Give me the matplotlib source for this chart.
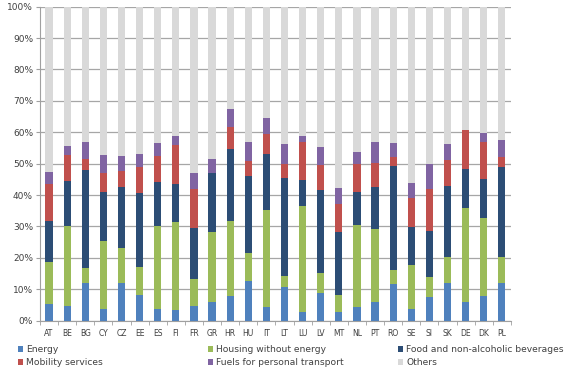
import numpy as np
import matplotlib
matplotlib.use("Agg")
import matplotlib.pyplot as plt
from matplotlib.patches import Patch

# shares in % per country
countries = ["AT", "BE", "BG", "CY", "CZ", "EE", "ES", "FI", "FR", "GR", "HR", "HU", "IT",
             "LT", "LU", "LV", "MT", "NL", "PT", "RO", "SE", "SI", "SK", "DE", "DK", "PL"]
energy   = [5.3, 4.7, 12.0, 3.7, 12.0, 8.2, 3.7, 3.4, 4.8, 5.8, 8.0, 12.7, 4.5,
            10.7, 2.8, 8.8, 2.8, 4.5, 5.8, 11.7, 3.8, 7.7, 12.1, 5.9, 8.0, 12.1]
housing  = [13.4, 25.6, 4.9, 21.8, 11.0, 8.9, 26.4, 28.0, 8.5, 22.3, 23.8, 8.7, 30.7,
            3.5, 33.8, 6.5, 5.5, 25.9, 23.5, 4.4, 13.9, 6.3, 8.1, 30.0, 24.7, 8.1]
food     = [13.0, 14.1, 31.1, 15.5, 19.5, 23.5, 14.1, 12.1, 16.3, 18.8, 22.9, 24.7, 17.9,
            31.4, 8.2, 26.3, 19.9, 10.6, 13.2, 33.3, 12.1, 14.5, 22.7, 12.4, 12.4, 28.6]
mobility = [11.7, 8.4, 3.5, 5.9, 5.2, 8.2, 8.3, 12.4, 12.3, 0.0, 7.0, 4.7, 6.2,
            4.4, 12.0, 7.9, 9.0, 8.9, 7.6, 2.6, 9.3, 13.3, 8.3, 12.3, 11.9, 3.3]
fuels    = [3.8, 2.9, 5.3, 5.9, 4.7, 4.3, 4.1, 3.0, 5.0, 4.5, 5.7, 6.2, 5.1,
            6.2, 2.0, 5.8, 5.2, 3.7, 6.9, 4.6, 4.7, 8.0, 5.0, 0.0, 2.7, 5.5]
others = [100 - a - b - c - d - e for a, b, c, d, e in zip(energy, housing, food, mobility, fuels)]

series = [("Energy", energy, "#4F81BD"),
          ("Housing without energy", housing, "#9BBB59"),
          ("Food and non-alcoholic beverages", food, "#2C4D75"),
          ("Mobility services", mobility, "#C0504D"),
          ("Fuels for personal transport", fuels, "#8064A2"),
          ("Others", others, "#D9D9D9")]

fig = plt.figure(figsize=(5.67, 3.71), dpi=100)
ax = fig.add_axes([0.0705, 0.1356, 0.8305, 0.8464])

x = np.arange(len(countries))
bottom = np.zeros(len(countries))
handles = []
for name, vals, col in series:
    ax.bar(x, vals, width=0.4, bottom=bottom, color=col, zorder=3)
    bottom += np.array(vals)
    handles.append(Patch(facecolor=col, label=name))

ax.set_xlim(-0.5, len(countries) - 0.5)
ax.set_ylim(0, 100)
ax.set_yticks(np.arange(0, 101, 10))
ax.set_yticklabels([f"{v}%" for v in range(0, 101, 10)], fontsize=6.5, color="#404040")
ax.set_xticks(x)
ax.set_xticklabels(countries, fontsize=5.5, color="#404040")
ax.set_xticks(np.arange(-0.5, len(countries), 1), minor=True)
ax.tick_params(axis="x", which="major", length=0, pad=6)
ax.tick_params(axis="x", which="minor", length=3, color="#A0A0A0")
ax.tick_params(axis="y", length=3, color="#A0A0A0", pad=2)
ax.grid(axis="y", color="#A6A6A6", linewidth=0.9, zorder=0)
for s in ["top", "right"]:
    ax.spines[s].set_visible(False)
ax.spines["left"].set_color("#A0A0A0")
ax.spines["bottom"].set_color("#A0A0A0")

# legend: three columns, each two rows
cols = [(0.022, [0, 3]), (0.357, [1, 4]), (0.692, [2, 5])]
for xpos, idx in cols:
    leg = fig.legend([handles[i] for i in idx], [handles[i].get_label() for i in idx],
                     loc="lower left", bbox_to_anchor=(xpos, -0.005), frameon=False,
                     fontsize=6.6, handlelength=0.6, handleheight=0.6, handletextpad=0.3,
                     labelspacing=0.45, labelcolor="#404040", borderaxespad=0.2)

fig.savefig("out.png", dpi=100)
